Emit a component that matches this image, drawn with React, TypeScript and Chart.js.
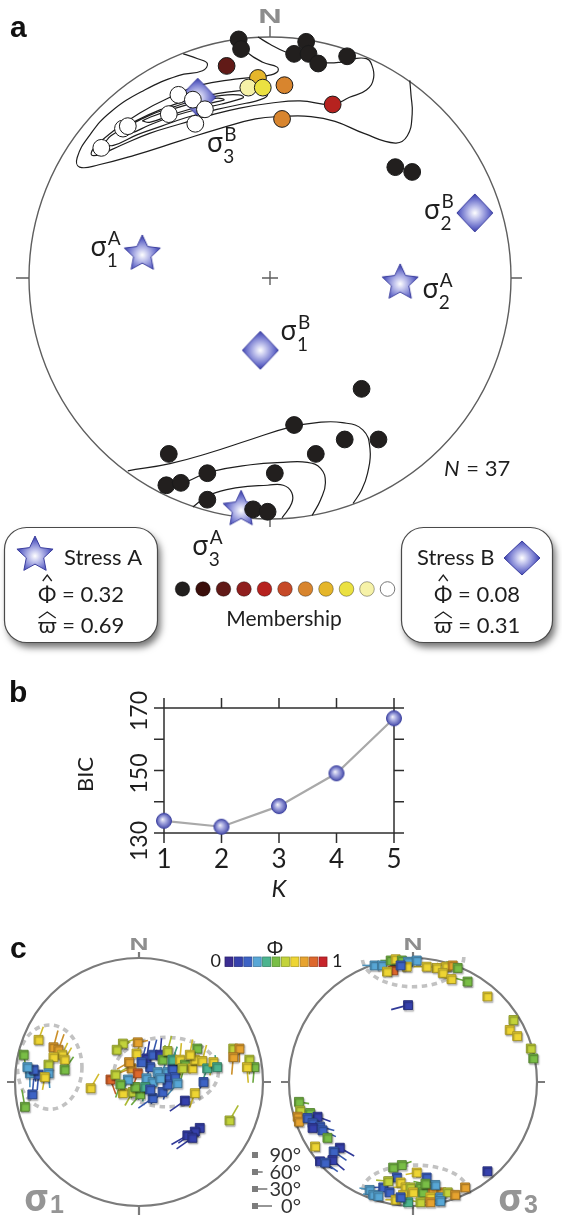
import React, { useEffect, useRef } from 'react';
import { Chart, registerables } from 'chart.js';

Chart.register(...registerables);

const SANS = 'Lato, "Noto Sans", "DejaVu Sans", sans-serif';
const GREEK = '"Noto Sans", "DejaVu Sans", sans-serif';
const HEAVY = '"Liberation Sans", Arial, sans-serif';
const INK = '#1e1e1e';

// ================= Panel a : fault poles on the stereonet (radius = 100) =================
const membershipLevels = [0, 0.1, 0.2, 0.3, 0.4, 0.5, 0.6, 0.7, 0.8, 0.9, 1];
const membershipColors = ['#221f1e', '#3b0f0b', '#611a17', '#8f1f1e', '#b6221f', '#c64a28', '#d8852e', '#e5b62a', '#ebe141', '#f6f2a8', '#ffffff'];

const polesStressA: [number, number][] = [
  [-13, 99], [-12, 95], [15, 98], [10, 93], [16, 93], [20, 89], [32, 92], [52, 46], [59, 44],
  [38, -46], [10, -61], [31, -67], [45, -67], [-42, -73], [19, -73], [-26, -81], [2, -81],
  [-43, -86], [-37, -85], [-26, -92], [-7, -96], [-1, -97],
];
const polesMixed: [number, number, number][] = [
  [-18, 88, 0.2], [-5, 83, 0.7], [6, 80, 0.6], [26, 72, 0.4], [5, 66, 0.6], [-9, 79, 0.9], [-3, 79, 0.8],
];
const polesStressB: [number, number][] = [
  [-70, 54], [-61, 62], [-59, 63], [-42, 68], [-38, 76], [-32, 74], [-27, 70], [-31, 64],
];
const nFaults = 37;

const contoursNorth: [number, number][][] = [
  [[-36, 93], [-30, 91], [-26, 89], [-28, 86], [-38, 84], [-52, 78], [-66, 69], [-75, 59], [-80, 50], [-79, 46], [-71, 47], [-56, 51], [-37, 57], [-21, 62], [-6, 66], [5, 67], [17, 67], [27, 65], [39, 60], [52, 56], [57, 59], [59, 68], [58.5, 76], [58, 82]],
  [[-5, 100], [0, 97], [6, 94], [12.5, 92], [21, 89.5], [29, 89.5], [35, 91], [40, 91], [42, 89], [43, 83], [40, 78], [33, 75], [26, 72], [12.5, 73.5], [0, 72.5], [-12.5, 70.5], [-25, 67.5], [-37, 64], [-50, 60], [-62, 55], [-70, 51.5], [-74, 51], [-73, 54], [-65, 61], [-54, 68.5], [-41.5, 75], [-29, 80], [-14.5, 82.5], [-1, 84], [3, 85.5], [3, 87.5], [-3, 89.5], [-10, 94], [-14, 99]],
  [[-69, 55.5], [-66, 59], [-55, 65.5], [-45, 70], [-35, 73.5], [-22, 76.5], [-10, 78], [-3, 78.5], [-1, 76], [-4, 74], [-10, 72.5], [-22, 70], [-35, 66.5], [-45, 63], [-55, 59.5], [-65, 55], [-69, 55.5]],
  [[-63, 60], [-58, 63.5], [-50, 67.5], [-40, 71], [-30, 74], [-20, 75.8], [-13, 76], [-11, 75], [-14, 73.8], [-20, 72.2], [-30, 70], [-40, 67.2], [-50, 63.5], [-58, 60], [-63, 60]],
  [[-53, 65.2], [-50, 66.6], [-40, 70.2], [-30, 73.1], [-22, 74.6], [-19, 74], [-22, 73.2], [-30, 71], [-40, 68], [-50, 64.6], [-53, 65.2]],
];
const contoursSouth: [number, number][][] = [
  [[-59, -80], [-41.5, -77], [-25, -72.5], [-8, -67], [8, -62], [19.5, -60], [30, -60], [38.5, -63], [41.5, -71], [40.5, -81], [38, -88], [34.5, -93.5]],
  [[-45.5, -89], [-34.5, -84.5], [-25, -80.5], [-8, -77.5], [5.5, -76.5], [15.5, -76.5], [21, -79], [23, -85], [21, -92], [17.5, -98.5]],
  [[-32, -95], [-25, -90], [-13.5, -87], [-1, -86], [5.5, -86], [9, -89], [9, -93.5], [5, -99.5]],
];

const axesStressA: [number, number][] = [[-53, 10], [54, -2], [-12, -96]];
const axesStressB: [number, number][] = [[-4, -30], [85, 27], [-30, 75]];
const axisNumbers = ['1', '2', '3'];
const stressNames = ['Stress A', 'Stress B'];
const stressPhi = [0.32, 0.08];
const stressOmega = [0.69, 0.31];

// ================= Panel b : BIC versus K =================
const kValues = [1, 2, 3, 4, 5];
const bicValues = [133.9, 132.0, 138.6, 149.1, 166.7];
const bicTicks = [130, 140, 150, 160, 170];
const bicLabels = [130, 150, 170];

// ================= Panel c : sigma1 / sigma3 axes [x, y, phi, trend, plunge] =================
const phiLevels = [0, 0.1, 0.2, 0.3, 0.4, 0.5, 0.6, 0.7, 0.8, 0.9, 1];
const phiColors = ['#3b2d92', '#3641ad', '#3d63c5', '#58a7d6', '#4cb48f', '#79be46', '#c3d33a', '#eed533', '#e7a32f', '#dd672c', '#c7242a'];
const dipLegend = [90, 60, 30, 0];

const sigma1Axes: number[][] = [
  [-81, 34, 0.7, 20, 40], [-93, 22, 0.5, 170, 60], [-69, 28, 0.8, 15, 20], [-65, 26, 0.8, 20, 25],
  [-62, 22, 0.7, 25, 45], [-69, 20, 0.7, 10, 35], [-73, 14, 0.6, 200, 55], [-60, 18, 0.7, 30, 40],
  [-60, 10, 0.5, 35, 30], [-88, 7, 0.3, 180, 40], [-81, 6, 0.2, 185, 30], [-73, 7, 0.3, 175, 35],
  [-85, 10, 0.2, 170, 50], [-76, 4, 0.7, 190, 45], [-86, -10, 0.2, 5, 30], [-92, -20, 0.5, 350, 20],
  [-90, 12, 0.3, 160, 60], [-39, -5, 0.7, 30, 25], [-23, 2, 0.9, 160, 30],
  [-13, 31, 0.6, 70, 40], [-1, 32, 0.8, 80, 60], [-18, 26, 0.6, 60, 30], [-2, 23, 0.7, 20, 45],
  [-6, 11, 0.8, 250, 35], [-8, 16, 0.8, 240, 40], [-1, 7, 0.9, 200, 50], [-13, -9, 0.7, 60, 45],
  [-5, -8, 0.6, 210, 30], [1, -10, 0.5, 220, 40], [-3, -4, 0.5, 200, 50], [11, -13, 0.2, 235, 20],
  [19, -8, 0.2, 225, 25], [6, 19, 0.1, 10, 20], [11, 22, 0.2, 15, 30], [17, 22, 0.1, 5, 25],
  [9, 12, 0.2, 200, 30], [6, 3, 0.3, 210, 40], [11, 0, 0.3, 230, 35], [15, 8, 0.3, 190, 45],
  [23, 8, 0.3, 20, 30], [27, 11, 0.2, 10, 25], [23, 3, 0.2, 200, 35], [29, 4, 0.2, 15, 20],
  [23, -2, 0.2, 195, 30], [19, 18, 0.5, 10, 35], [23, 25, 0.6, 15, 30], [27, 18, 0.4, 20, 40],
  [33, 18, 0.7, 5, 25], [37, 14, 0.5, 195, 30], [43, 11, 0.7, 10, 30], [45, 18, 0.7, 200, 35],
  [51, 17, 0.7, 15, 25], [47, 27, 0.5, 230, 40], [55, 11, 0.4, 200, 30], [60, 16, 0.7, 195, 40],
  [63, 12, 0.4, 350, 50], [52, 0, 0.2, 210, 35], [45, -9, 0.7, 200, 30], [37, -15, 0.1, 235, 15],
  [41, 22, 0.7, 10, 30], [35, 11, 0.6, 200, 40], [31, -1, 0.3, 220, 30], [5, -4, 0.4, 190, 35],
  [-19, 6, 0.6, 60, 40], [-9, 2, 0.3, 200, 45], [2, 16, 0.2, 15, 30], [-15, -2, 0.5, 200, 40],
  [9, -6, 0.2, 230, 30], [17, 3, 0.3, 20, 35],
  [76, 27, 0.6, 185, 45], [81, 27, 0.8, 180, 40], [76, 20, 0.8, 185, 20], [89, 18, 0.6, 180, 35],
  [93, 12, 0.5, 185, 30], [87, 12, 0.7, 175, 30], [73, -31, 0.6, 30, 20],
  [49, -37, 0.1, 240, 10], [45, -40, 0.1, 235, 5], [39, -43, 0.1, 240, 15], [43, -45, 0.1, 235, 10],
];

const sigma3Axes: number[][] = [
  [-31, 94, 0.3, 270, 50], [-25, 94, 0.3, 265, 60], [-16, 90, 0.9, 280, 70], [-18, 98, 0.5, 270, 60],
  [-14, 99, 0.7, 275, 65], [-9, 98, 0.5, 280, 60], [-4, 97, 0.3, 270, 70], [3, 98, 0.3, 265, 75],
  [-5, 93, 0.7, 275, 55], [-21, 89, 0.7, 290, 50], [-10, 94, 0.2, 270, 60], [19, 92, 0.7, 280, 50],
  [27, 93, 0.7, 290, 60], [32, 94, 0.8, 280, 50], [36, 92, 0.5, 300, 45], [24, 88, 0.7, 285, 55],
  [31, 83, 0.7, 280, 60], [44, 81, 0.5, 285, 30], [11, 93, 0.7, 270, 45], [60, 69, 0.7, 0, 90],
  [-4, 62, 0.1, 255, 20], [81, 50, 0.6, 0, 90], [78, 42, 0.7, 0, 90], [84, 37, 0.7, 0, 90],
  [95, 27, 0.6, 0, 90], [97, 19, 0.5, 0, 90],
  [-92, -16, 0.5, 100, 60], [-91, -23, 0.6, 95, 55], [-93, -28, 0.8, 100, 50], [-92, -32, 0.8, 95, 60],
  [-83, -25, 0.5, 100, 50], [-77, -28, 0.1, 110, 40], [-85, -29, 0.2, 105, 45], [-81, -33, 0.2, 110, 40],
  [-75, -36, 0.2, 105, 35], [-81, -37, 0.1, 110, 45], [-73, -39, 0.2, 115, 35], [-69, -45, 0.5, 0, 90],
  [-79, -52, 0.7, 0, 90], [-59, -53, 0.1, 120, 25], [-64, -56, 0.2, 125, 30], [-65, -63, 0.1, 130, 30],
  [-75, -64, 0.1, 120, 35], [-71, -65, 0.2, 125, 30],
  [-16, -69, 0.5, 80, 55], [-9, -67, 0.5, 70, 60], [-13, -77, 0.2, 270, 50], [3, -73, 0.7, 260, 55],
  [11, -77, 0.2, 0, 90], [-35, -87, 0.3, 280, 60], [-24, -85, 0.2, 270, 55], [-32, -91, 0.3, 275, 60],
  [-19, -89, 0.2, 280, 50], [-10, -81, 0.7, 280, 55], [-6, -85, 0.7, 270, 50], [-2, -85, 0.6, 275, 45],
  [6, -85, 0.5, 280, 50], [-8, -91, 0.7, 270, 55], [0, -89, 0.7, 275, 50], [8, -89, 0.5, 280, 45],
  [16, -87, 0.8, 285, 55], [23, -89, 0.8, 280, 50], [14, -93, 0.7, 270, 60], [22, -93, 0.3, 275, 55],
  [28, -89, 0.6, 280, 50], [34, -91, 0.8, 285, 60], [42, -85, 0.8, 0, 90], [-14, -95, 0.7, 270, 60],
  [-4, -97, 0.4, 275, 65], [6, -97, 0.6, 280, 60], [14, -97, 0.8, 270, 65], [22, -96, 0.3, 275, 60],
  [-10, -93, 0.2, 280, 55], [18, -83, 0.3, 270, 55], [60, -72, 0.1, 0, 90], [-20, -80, 0.6, 275, 50],
  [10, -82, 0.5, 280, 50], [-28, -92, 0.3, 270, 60],
];

// confidence cones: [cx, cy, rx, ry, part]
const conesSigma1: [number, number, number, number, string][] = [[-72, 12, 26, 34, 'full'], [22, 8, 42, 28, 'full']];
const conesSigma3: [number, number, number, number, string][] = [[0, 100.8, 41, 24, 'lower'], [1.6, -87, 42, 20, 'upper']];

// ================= helpers =================
function shade(hex: string, f: number) {
  const n = parseInt(hex.slice(1), 16);
  const c = [(n >> 16) & 255, (n >> 8) & 255, n & 255].map((v) => Math.max(0, Math.min(255, Math.round(v * (1 + f)))));
  return `rgb(${c[0]},${c[1]},${c[2]})`;
}

function glossy(g: CanvasRenderingContext2D, cx: number, cy: number, r: number) {
  const grad = g.createRadialGradient(cx, cy, 0, cx, cy, r);
  grad.addColorStop(0, '#ffffff');
  grad.addColorStop(0.3, '#c4c6ee');
  grad.addColorStop(0.75, '#6a6fcb');
  grad.addColorStop(1, '#3b3fa6');
  return grad;
}

function makeStar(radius: number) {
  const size = Math.ceil(radius * 2 + 4);
  const c = document.createElement('canvas');
  c.width = size; c.height = size;
  const g = c.getContext('2d')!;
  const cx = size / 2, cy = size / 2;
  g.beginPath();
  for (let i = 0; i < 10; i++) {
    const a = -Math.PI / 2 + (i * Math.PI) / 5;
    const rr = i % 2 === 0 ? radius : radius * 0.48;
    g.lineTo(cx + rr * Math.cos(a), cy + rr * Math.sin(a));
  }
  g.closePath();
  g.fillStyle = glossy(g, cx, cy + 1, radius);
  g.fill();
  g.lineWidth = 1; g.strokeStyle = '#3a3d9e'; g.stroke();
  return c;
}

function makeDiamond(hw: number, hh: number) {
  const c = document.createElement('canvas');
  c.width = Math.ceil(hw * 2 + 4); c.height = Math.ceil(hh * 2 + 4);
  const g = c.getContext('2d')!;
  const cx = c.width / 2, cy = c.height / 2;
  g.beginPath();
  g.moveTo(cx, cy - hh); g.lineTo(cx + hw, cy); g.lineTo(cx, cy + hh); g.lineTo(cx - hw, cy); g.closePath();
  g.fillStyle = glossy(g, cx, cy, Math.max(hw, hh));
  g.fill();
  g.lineWidth = 1; g.strokeStyle = '#3a3d9e'; g.stroke();
  return c;
}

function makeSphere(r: number) {
  const c = document.createElement('canvas');
  c.width = c.height = Math.ceil(r * 2 + 3);
  const g = c.getContext('2d')!;
  const cx = c.width / 2, cy = c.height / 2;
  const grad = g.createRadialGradient(cx - 1.5, cy - 1.5, 0, cx, cy, r);
  grad.addColorStop(0, '#f4f4fb');
  grad.addColorStop(0.45, '#a3a6de');
  grad.addColorStop(1, '#4b50ae');
  g.beginPath(); g.arc(cx, cy, r, 0, Math.PI * 2);
  g.fillStyle = grad; g.fill();
  g.lineWidth = 1; g.strokeStyle = '#3f44a0'; g.stroke();
  return c;
}

function drawNorth(ctx: CanvasRenderingContext2D, x: number, baseline: number, size: number, color: string) {
  ctx.save();
  ctx.translate(x, baseline);
  ctx.scale(1.55, 1);
  ctx.font = `bold ${size}px ${HEAVY}`;
  ctx.fillStyle = color;
  ctx.textAlign = 'center';
  ctx.textBaseline = 'alphabetic';
  ctx.fillText('N', 0, 0);
  ctx.restore();
}

function drawSigma(ctx: CanvasRenderingContext2D, x: number, y: number, sub: string, sup: string) {
  ctx.fillStyle = INK;
  ctx.textAlign = 'left';
  ctx.textBaseline = 'alphabetic';
  ctx.font = `27px ${GREEK}`;
  ctx.fillText('σ', x, y);
  const w = ctx.measureText('σ').width;
  ctx.font = `19px ${SANS}`;
  ctx.fillText(sub, x + w, y + 11);
  ctx.fillText(sup, x + w + 1, y - 11);
}

function drawStat(ctx: CanvasRenderingContext2D, cx: number, baseline: number, glyph: string, value: string, wide: boolean) {
  ctx.font = `22px ${SANS}`;
  ctx.fillStyle = INK;
  ctx.textAlign = 'left';
  const gw = ctx.measureText(glyph).width;
  const rest = ` = ${value}`;
  const rw = ctx.measureText(rest).width;
  const x0 = cx - (gw + rw) / 2;
  ctx.fillText(glyph, x0, baseline);
  ctx.fillText(rest, x0 + gw, baseline);
  ctx.beginPath();
  ctx.lineWidth = 1.3;
  ctx.strokeStyle = INK;
  if (wide) {
    const top = baseline - 21;
    ctx.moveTo(x0 + 1, top + 6); ctx.lineTo(x0 + gw / 2, top); ctx.lineTo(x0 + gw - 1, top + 6);
  } else {
    const top = baseline - 27;
    ctx.moveTo(x0 + gw / 2 - 4.5, top + 6); ctx.lineTo(x0 + gw / 2, top); ctx.lineTo(x0 + gw / 2 + 4.5, top + 6);
  }
  ctx.stroke();
}

const stereoScales = {
  x: { type: 'linear', min: -100, max: 100, display: false },
  y: { type: 'linear', min: -100, max: 100, display: false },
};

function baseOptions(padding: any, scales: any) {
  return {
    responsive: false,
    animation: false,
    events: [],
    layout: { padding },
    plugins: { legend: { display: false }, tooltip: { enabled: false } },
    scales,
  };
}

// ================= Panel a chart =================
function buildPanelA(canvas: HTMLCanvasElement) {
  const star = makeStar(19);
  const diamond = makeDiamond(18, 19);
  const legendStar = makeStar(19);
  const legendDiamond = makeDiamond(18, 17);

  const poles = [
    ...polesStressA.map(([x, y]) => ({ x, y, m: 0 })),
    ...polesMixed.map(([x, y, m]) => ({ x, y, m })),
    ...polesStressB.map(([x, y]) => ({ x, y, m: 1 })),
  ];
  const contourSets = [...contoursNorth, ...contoursSouth].map((c) => ({
    data: c.map(([x, y]) => ({ x, y })),
    showLine: true,
    borderColor: '#1e1e1e',
    borderWidth: 1.2,
    pointRadius: 0,
    tension: 0.45,
    fill: false,
    order: 3,
    clip: false,
  }));

  const labelOffsetsA = [[-52, 2], [22, 15], [-49, 46]];
  const labelOffsetsB = [[20, -10], [-51, 6], [9, 55]];

  const frame = {
    id: 'frameA',
    beforeDatasetsDraw(chart: any) {
      const { ctx } = chart;
      const xs = chart.scales.x, ys = chart.scales.y;
      const cx = xs.getPixelForValue(0), cy = ys.getPixelForValue(0);
      const r = xs.getPixelForValue(100) - cx;
      ctx.save();
      ctx.strokeStyle = '#5e5e5e';
      ctx.lineWidth = 1.4;
      ctx.beginPath(); ctx.arc(cx, cy, r, 0, Math.PI * 2); ctx.stroke();
      ctx.beginPath();
      ctx.moveTo(cx, cy - r); ctx.lineTo(cx, cy - r - 11);
      ctx.moveTo(cx - r, cy); ctx.lineTo(cx - r - 13, cy);
      ctx.moveTo(cx + r, cy); ctx.lineTo(cx + r + 11, cy);
      ctx.moveTo(cx, cy + r); ctx.lineTo(cx, cy + r + 8);
      ctx.moveTo(cx - 8, cy); ctx.lineTo(cx + 8, cy);
      ctx.moveTo(cx, cy - 7); ctx.lineTo(cx, cy + 7);
      ctx.stroke();
      drawNorth(ctx, cx, cy - r - 14, 21, '#8d8d8d');
      ctx.restore();
    },
    afterDatasetsDraw(chart: any) {
      const { ctx } = chart;
      const xs = chart.scales.x, ys = chart.scales.y;
      ctx.save();
      axesStressA.forEach(([x, y], i) => {
        drawSigma(ctx, xs.getPixelForValue(x) + labelOffsetsA[i][0], ys.getPixelForValue(y) + labelOffsetsA[i][1], axisNumbers[i], 'A');
      });
      axesStressB.forEach(([x, y], i) => {
        drawSigma(ctx, xs.getPixelForValue(x) + labelOffsetsB[i][0], ys.getPixelForValue(y) + labelOffsetsB[i][1], axisNumbers[i], 'B');
      });
      ctx.restore();
    },
    afterDraw(chart: any) {
      const { ctx } = chart;
      ctx.save();
      ctx.textBaseline = 'alphabetic';
      ctx.textAlign = 'left';
      ctx.fillStyle = '#111';
      ctx.font = `bold 30px ${HEAVY}`;
      ctx.fillText('a', 10, 37);

      ctx.fillStyle = INK;
      ctx.font = `italic 22px ${SANS}`;
      ctx.fillText('N', 444, 476);
      const nw = ctx.measureText('N').width;
      ctx.font = `22px ${SANS}`;
      ctx.fillText(` = ${nFaults}`, 444 + nw + 1, 476);

      // stress boxes
      const boxes = [{ x: 4.5, w: 153 }, { x: 401.5, w: 151 }];
      boxes.forEach((b, i) => {
        ctx.save();
        ctx.shadowColor = 'rgba(0,0,0,0.55)';
        ctx.shadowBlur = 7;
        ctx.shadowOffsetX = 3;
        ctx.shadowOffsetY = 5;
        ctx.beginPath();
        ctx.roundRect(b.x, 527.5, b.w, 115, 22);
        ctx.fillStyle = '#ffffff';
        ctx.fill();
        ctx.restore();
        ctx.beginPath();
        ctx.roundRect(b.x, 527.5, b.w, 115, 22);
        ctx.strokeStyle = '#4a4a4a';
        ctx.lineWidth = 1.2;
        ctx.stroke();
        const center = b.x + b.w / 2;
        ctx.font = `22px ${SANS}`;
        ctx.fillStyle = INK;
        ctx.textAlign = 'left';
        if (i === 0) {
          ctx.drawImage(legendStar, 35 - legendStar.width / 2, 555 - legendStar.height / 2);
          ctx.fillText(stressNames[0], 64, 565);
        } else {
          ctx.fillText(stressNames[1], 417, 565);
          ctx.drawImage(legendDiamond, 522 - legendDiamond.width / 2, 558 - legendDiamond.height / 2);
        }
        drawStat(ctx, center, 602, 'Φ', stressPhi[i].toFixed(2), false);
        drawStat(ctx, center, 633, 'ϖ', stressOmega[i].toFixed(2), true);
      });

      // membership scale
      membershipLevels.forEach((m, i) => {
        ctx.beginPath();
        ctx.arc(182.5 + i * 20.5, 589, 7.3, 0, Math.PI * 2);
        ctx.fillStyle = membershipColors[Math.round(m * 10)];
        ctx.fill();
        ctx.lineWidth = 1;
        ctx.strokeStyle = i === 10 ? '#777777' : 'rgba(0,0,0,0.35)';
        ctx.stroke();
      });
      ctx.fillStyle = INK;
      ctx.font = `21px ${SANS}`;
      ctx.textAlign = 'center';
      ctx.fillText('Membership', 284, 626);
      ctx.restore();
    },
  };

  return new Chart(canvas, {
    type: 'scatter',
    data: {
      datasets: [
        {
          data: poles,
          backgroundColor: poles.map((p) => membershipColors[Math.round(p.m * 10)]),
          borderColor: '#1a1a1a',
          borderWidth: 1,
          pointRadius: 8.4,
          order: 1,
          clip: false,
        },
        { data: axesStressA.map(([x, y]) => ({ x, y })), pointStyle: star, pointRadius: 10, order: 2, clip: false },
        { data: axesStressB.map(([x, y]) => ({ x, y })), pointStyle: diamond, pointRadius: 10, order: 2, clip: false },
        ...contourSets,
      ],
    } as any,
    options: baseOptions({ left: 29, right: 51, top: 37, bottom: 141 }, stereoScales) as any,
    plugins: [frame as any],
  });
}

// ================= Panel b chart =================
function buildPanelB(canvas: HTMLCanvasElement) {
  const sphere = makeSphere(7.5);
  const axes = {
    id: 'axesB',
    beforeDatasetsDraw(chart: any) {
      const { ctx, chartArea: a } = chart;
      const xs = chart.scales.x, ys = chart.scales.y;
      ctx.save();
      ctx.strokeStyle = '#2e2e2e';
      ctx.lineWidth = 1.5;
      ctx.strokeRect(a.left, a.top, a.right - a.left, a.bottom - a.top);
      ctx.beginPath();
      kValues.forEach((k) => {
        const px = xs.getPixelForValue(k);
        ctx.moveTo(px, a.bottom); ctx.lineTo(px, a.bottom + 10);
        ctx.moveTo(px, a.top); ctx.lineTo(px, a.top - 10);
      });
      bicTicks.forEach((t) => {
        const py = ys.getPixelForValue(t);
        ctx.moveTo(a.left, py); ctx.lineTo(a.left - 10, py);
        ctx.moveTo(a.right, py); ctx.lineTo(a.right + 10, py);
      });
      ctx.stroke();

      ctx.fillStyle = INK;
      ctx.textBaseline = 'alphabetic';
      ctx.textAlign = 'center';
      ctx.font = `26px ${SANS}`;
      kValues.forEach((k) => ctx.fillText(String(k), xs.getPixelForValue(k), a.bottom + 35));
      ctx.font = `23px ${SANS}`;
      bicLabels.forEach((t) => {
        ctx.save();
        ctx.translate(a.left - 17, ys.getPixelForValue(t) + (t === bicLabels[0] ? 8 : 3));
        ctx.rotate(-Math.PI / 2);
        ctx.fillText(String(t), 0, 0);
        ctx.restore();
      });
      ctx.save();
      ctx.font = `22px ${SANS}`;
      ctx.translate(93, (a.top + a.bottom) / 2 + 4);
      ctx.rotate(-Math.PI / 2);
      ctx.fillText('BIC', 0, 0);
      ctx.restore();
      ctx.font = `italic 24px ${SANS}`;
      ctx.fillText('K', (a.left + a.right) / 2, 237);
      ctx.textAlign = 'left';
      ctx.fillStyle = '#111';
      ctx.font = `bold 30px ${HEAVY}`;
      ctx.fillText('b', 9, 42);
      ctx.restore();
    },
  };
  return new Chart(canvas, {
    type: 'scatter',
    data: {
      datasets: [
        {
          data: kValues.map((k, i) => ({ x: k, y: bicValues[i] })),
          showLine: true,
          borderColor: '#a9a9a9',
          borderWidth: 2.2,
          pointStyle: sphere,
          pointRadius: 7,
          tension: 0,
          clip: false,
        },
      ],
    } as any,
    options: baseOptions({ left: 164, right: 168, top: 48, bottom: 67 }, {
      x: { type: 'linear', min: 1, max: 5, display: false },
      y: { type: 'linear', min: 130, max: 170, display: false },
    }) as any,
    plugins: [axes as any],
  });
}

// ================= Panel c charts =================
function buildPanelC(canvas: HTMLCanvasElement, points: number[][], cones: any[], sub: string, labelX: number, padding: any, withLegend: boolean) {
  const data = points.map(([x, y, phi, az, pl]) => ({ x, y, phi, az, pl }));
  const colorOf = (phi: number) => phiColors[Math.round(phi * 10)];
  const plugin = {
    id: 'stereoC',
    beforeDatasetsDraw(chart: any) {
      const { ctx } = chart;
      const xs = chart.scales.x, ys = chart.scales.y;
      const cx = xs.getPixelForValue(0), cy = ys.getPixelForValue(0);
      const r = xs.getPixelForValue(100) - cx;
      const k = r / 100;
      ctx.save();
      ctx.setLineDash([5.5, 4.5]);
      ctx.lineWidth = 3.6;
      ctx.strokeStyle = '#c2c2c2';
      cones.forEach(([ex, ey, rx, ry, part]) => {
        const a0 = part === 'upper' ? Math.PI : 0;
        const a1 = part === 'full' ? Math.PI * 2 : a0 + Math.PI;
        ctx.beginPath();
        ctx.ellipse(xs.getPixelForValue(ex), ys.getPixelForValue(ey), rx * k, ry * k, 0, a0, a1);
        ctx.stroke();
      });
      ctx.setLineDash([]);
      ctx.strokeStyle = '#7b7b7b';
      ctx.lineWidth = 2.2;
      ctx.beginPath(); ctx.arc(cx, cy, r, 0, Math.PI * 2); ctx.stroke();
      ctx.beginPath();
      ctx.moveTo(cx, cy - r); ctx.lineTo(cx, cy - r - 6);
      ctx.moveTo(cx - r, cy); ctx.lineTo(cx - r - 8, cy);
      ctx.moveTo(cx + r, cy); ctx.lineTo(cx + r + 8, cy);
      ctx.moveTo(cx, cy + r); ctx.lineTo(cx, cy + r + 9);
      ctx.stroke();
      drawNorth(ctx, cx, cy - r - 8, 17, '#8e8e8e');
      // plunge tails
      ctx.lineWidth = 1.6;
      data.forEach((d) => {
        if (d.pl >= 90) return;
        const px = xs.getPixelForValue(d.x), py = ys.getPixelForValue(d.y);
        const len = 5 + 16 * (1 - d.pl / 90);
        const a = (d.az * Math.PI) / 180;
        ctx.strokeStyle = shade(colorOf(d.phi), -0.12);
        ctx.beginPath();
        ctx.moveTo(px, py);
        ctx.lineTo(px + Math.sin(a) * len, py - Math.cos(a) * len);
        ctx.stroke();
      });
      ctx.restore();
    },
    beforeDatasetDraw(chart: any) {
      const { ctx } = chart;
      ctx.save();
      ctx.shadowColor = 'rgba(0,0,0,0.45)';
      ctx.shadowBlur = 1.5;
      ctx.shadowOffsetX = 1;
      ctx.shadowOffsetY = 1.5;
    },
    afterDatasetDraw(chart: any) {
      chart.ctx.restore();
    },
    afterDraw(chart: any) {
      const { ctx } = chart;
      ctx.save();
      ctx.textBaseline = 'alphabetic';
      ctx.fillStyle = '#959595';
      ctx.textAlign = 'left';
      ctx.font = `bold 38px ${GREEK}`;
      ctx.fillText('σ', labelX, 311);
      const w = ctx.measureText('σ').width;
      ctx.font = `bold 25px ${HEAVY}`;
      ctx.fillText(sub, labelX + w + 1, 313);
      if (withLegend) {
        ctx.fillStyle = '#111';
        ctx.font = `bold 30px ${HEAVY}`;
        ctx.fillText('c', 10, 58);
        // phi colour bar
        ctx.fillStyle = INK;
        ctx.font = `20px ${GREEK}`;
        ctx.textAlign = 'center';
        ctx.fillText('Φ', 275, 55);
        ctx.font = `18px ${SANS}`;
        ctx.textAlign = 'right';
        ctx.fillText('0', 221, 67);
        ctx.textAlign = 'left';
        ctx.fillText('1', 332, 67);
        phiLevels.forEach((p, i) => {
          const col = phiColors[Math.round(p * 10)];
          ctx.fillStyle = col;
          ctx.fillRect(225 + i * 9.4, 57, 8, 9.5);
          ctx.strokeStyle = shade(col, -0.25);
          ctx.lineWidth = 0.8;
          ctx.strokeRect(225 + i * 9.4, 57, 8, 9.5);
        });
        // plunge legend
        dipLegend.forEach((dip, i) => {
          const yc = 255 + i * 17;
          ctx.strokeStyle = '#7c7c7c';
          ctx.lineWidth = 1.6;
          if (dip < 90) {
            ctx.beginPath();
            ctx.moveTo(255, yc);
            ctx.lineTo(258 + 14 * (1 - dip / 90), yc);
            ctx.stroke();
          }
          ctx.fillStyle = '#7c7c7c';
          ctx.fillRect(252, yc - 3, 6, 6);
          ctx.fillStyle = '#333333';
          ctx.font = `20px ${SANS}`;
          ctx.textAlign = 'right';
          ctx.fillText(`${dip}°`, 301, yc + 7);
        });
      }
      ctx.restore();
    },
  };
  return new Chart(canvas, {
    type: 'scatter',
    data: {
      datasets: [
        {
          data,
          pointStyle: 'rect',
          pointRadius: 6.3,
          backgroundColor: data.map((d) => colorOf(d.phi)),
          borderColor: data.map((d) => shade(colorOf(d.phi), -0.3)),
          borderWidth: 0.9,
          clip: false,
        },
      ],
    } as any,
    options: baseOptions(padding, stereoScales) as any,
    plugins: [plugin as any],
  });
}

export default function App() {
  const aRef = useRef<HTMLCanvasElement>(null);
  const bRef = useRef<HTMLCanvasElement>(null);
  const c1Ref = useRef<HTMLCanvasElement>(null);
  const c2Ref = useRef<HTMLCanvasElement>(null);

  useEffect(() => {
    const charts: Chart[] = [];
    charts.push(buildPanelA(aRef.current!));
    charts.push(buildPanelB(bRef.current!));
    charts.push(buildPanelC(c1Ref.current!, sigma1Axes, conesSigma1, '1', 24, { left: 15, right: 87, top: 58, bottom: 11 }, true));
    charts.push(buildPanelC(c2Ref.current!, sigma3Axes, conesSigma3, '3', 218, { left: 9, right: 25, top: 58, bottom: 11 }, false));
    return () => charts.forEach((c) => c.destroy());
  }, []);

  const abs = (left: number, top: number, w: number, h: number): React.CSSProperties => ({
    position: 'absolute', left, top, width: w, height: h, display: 'block',
  });

  return (
    <div style={{ position: 'absolute', left: 0, top: 0, width: 562, height: 1217, background: '#ffffff', overflow: 'hidden' }}>
      <canvas ref={aRef} width={562} height={660} style={abs(0, 0, 562, 660)} />
      <canvas ref={bRef} width={562} height={240} style={abs(0, 660, 562, 240)} />
      <canvas ref={c1Ref} width={350} height={317} style={abs(0, 900, 350, 317)} />
      <canvas ref={c2Ref} width={282} height={317} style={abs(280, 900, 282, 317)} />
    </div>
  );
}
